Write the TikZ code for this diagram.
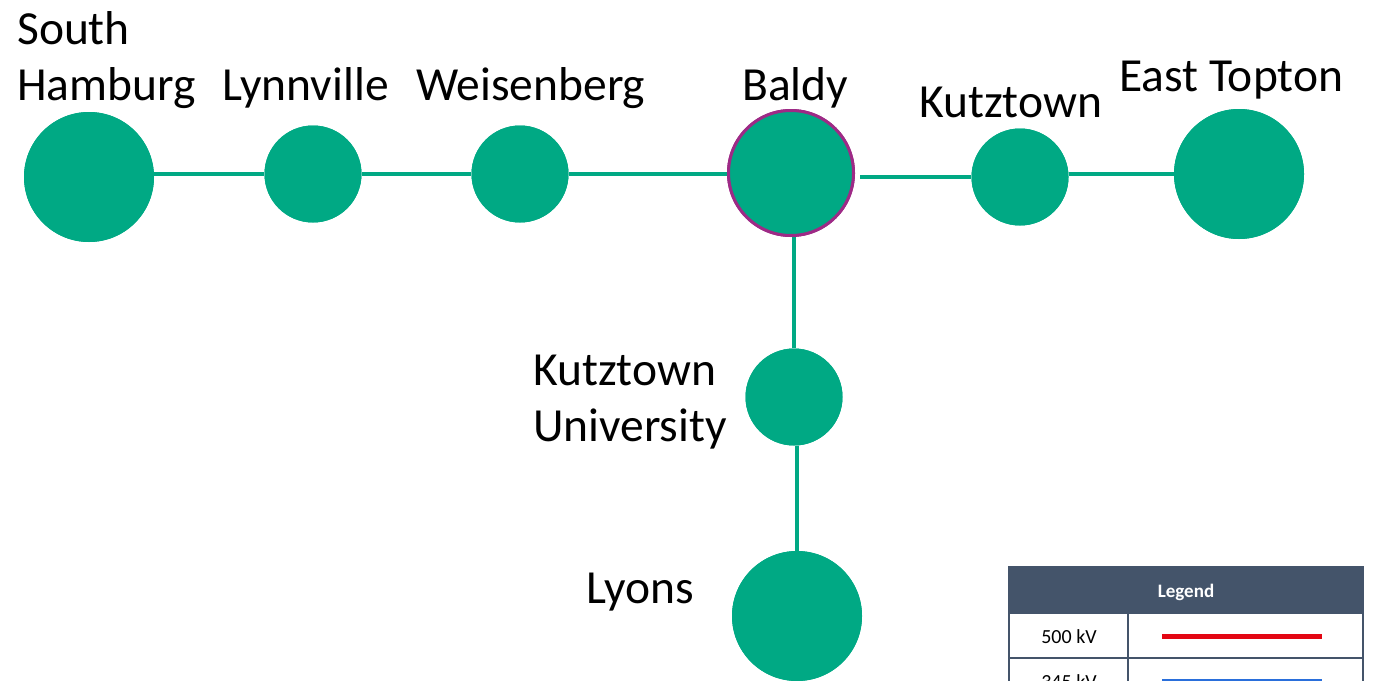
\documentclass[tikz,border=0pt]{standalone}
\usepackage{fontspec}
\setmainfont{Carlito}
\definecolor{bus}{HTML}{00A984}
\definecolor{ring}{HTML}{9E2A86}
\definecolor{slate}{HTML}{44546A}
\definecolor{kvred}{HTML}{E30613}
\definecolor{kvblue}{HTML}{2A6FDB}
\begin{document}
\begin{tikzpicture}[x=1pt,y=-1pt,
  bigbus/.style={circle,fill=bus,minimum size=130pt,inner sep=0pt},
  smallbus/.style={circle,fill=bus,minimum size=97pt,inner sep=0pt},
  tie/.style={draw=bus,line width=4.5pt},
  lbl/.style={anchor=base west,inner sep=0pt,font=\fontsize{47.5}{56}\selectfont,align=left},
  leghead/.style={fill=slate,draw=slate,line width=2pt},
  legcell/.style={fill=white,draw=slate,line width=2pt},
  legtext/.style={font=\fontsize{20}{24}\selectfont,inner sep=0pt,anchor=base}
]
\useasboundingbox (0,0) rectangle (1378,680);
\clip (0,0) rectangle (1378,680);

% buses
\node[bigbus] (SH) at (89,177) {};
\node[smallbus] (LY) at (313,174) {};
\node[smallbus] (WE) at (520,174) {};
\node[bigbus,minimum size=125pt,draw=ring,line width=3pt] (BA) at (791,173) {};
\node[smallbus] (KT) at (1020,177) {};
\node[bigbus] (ET) at (1239,174) {};
\node[smallbus] (KU) at (794,397) {};
\node[bigbus] (LO) at (797,616) {};

% ties
\draw[tie] (SH.east |- LY) -- (LY);
\draw[tie] (LY) -- (WE);
\draw[tie] (WE) -- (BA.west |- WE);
\coordinate (bke) at ([xshift=5pt]BA.east |- KT);
\draw[tie] (bke) -- (KT.west);
\draw[tie] (KT.east |- ET) -- (ET.west);
\draw[tie] (KU.north) -- (KU.north |- BA.south);
\draw[tie] (LO.north) -- (LO.north |- KU.south);

% redraw buses on top of ties
\node[bigbus] at (SH) {};
\node[smallbus] at (LY) {};
\node[smallbus] at (WE) {};
\node[bigbus,minimum size=125pt,draw=ring,line width=3pt] at (BA) {};
\node[smallbus] at (KT) {};
\node[bigbus] at (ET) {};
\node[smallbus] at (KU) {};
\node[bigbus] at (LO) {};

% labels
\node[lbl] (tSH) at (17,100) {South\\Hamburg};
\node[lbl] (tLY) at (222,100) {Lynnville};
\node[lbl] (tWE) at (416,100) {Weisenberg};
\node[lbl] (tBA) at (742,100) {Baldy};
\node[lbl] (tKT) at (919,117) {Kutztown};
\node[lbl] (tET) at (1119,91) {East Topton};
\node[lbl] (tKU) at (533,441) {Kutztown\\University};
\node[lbl] (tLO) at (586,603) {Lyons};

% legend
\path[leghead] (1009,567) rectangle (1363,613);
\node[legtext,font=\bfseries\fontsize{19}{22}\selectfont,text=white] (lgh) at (1186,597) {Legend};
\path[legcell] (1009,613) rectangle (1128,658);
\path[legcell] (1128,613) rectangle (1363,658);
\path[legcell] (1009,658) rectangle (1128,703);
\path[legcell] (1128,658) rectangle (1363,703);
\node[legtext] (l500) at (1069,643) {500 kV};
\node[legtext] (l345) at (1069,688) {345 kV};
\coordinate (r1) at (1162,636);
\coordinate (r2) at (1322,636);
\draw[kvred,line width=5pt] (r1) -- (r2);
\coordinate (b1) at (1162,681);
\coordinate (b2) at (1322,681);
\draw[kvblue,line width=5pt] (b1) -- (b2);
\end{tikzpicture}
\end{document}
